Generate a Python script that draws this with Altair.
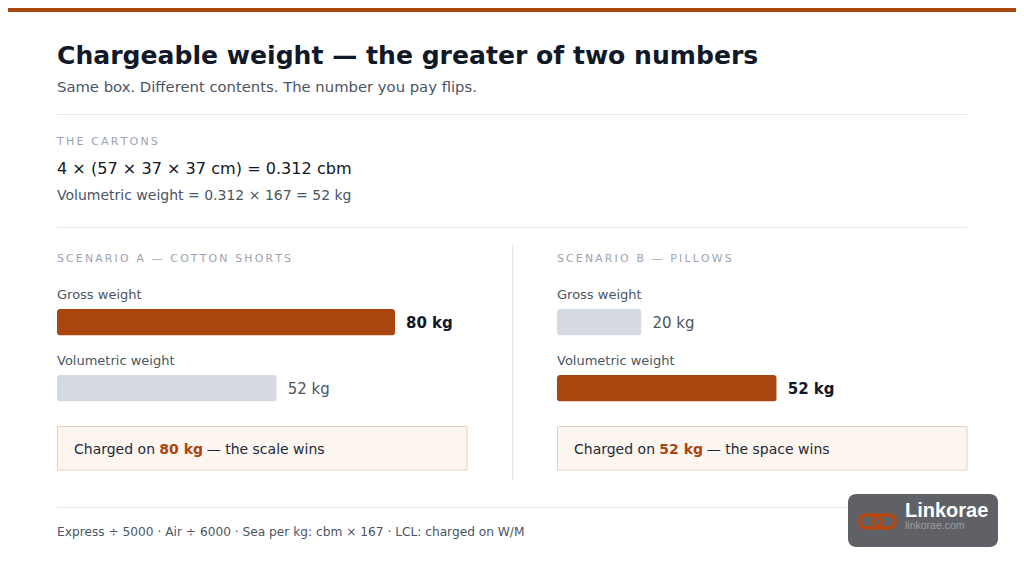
import altair as alt
import pandas as pd

# ---------------- data ----------------
title = "Chargeable weight — the greater of two numbers"
subtitle = "Same box. Different contents. The number you pay flips."
cartons_label = "THE CARTONS"
carton_count = 4
carton_dims_cm = [57, 37, 37]
total_cbm = 0.312
sea_factor = 167
volumetric_result_kg = 52

scenarios = ["A", "B"]
scenario_labels = ["SCENARIO A — COTTON SHORTS", "SCENARIO B — PILLOWS"]
metrics = ["Gross weight", "Volumetric weight"]
gross_kg = [80, 20]
volumetric_kg = [52, 52]
verdicts = ["— the scale wins", "— the space wins"]
footer = "Express ÷ 5000 · Air ÷ 6000 · Sea per kg: cbm × 167 · LCL: charged on W/M"
brand = "Linkorae"
brand_url = "linkorae.com"

# ---------------- styles ----------------
FONT = "DejaVu Sans"
ORANGE = "#a8460e"
BAR_GRAY = "#d5dae0"
DARK = "#111827"
TEXT_GRAY = "#4b5563"
LIGHT_GRAY = "#9ca3af"
LINE = "#e5e7eb"
W, H = 1008, 557
PANEL_X = [49, 549]
BAR_SPAN = 338


def spaced(s):
    return "\u2009".join(list(s))


rows = []
for i, s in enumerate(scenarios):
    vals = [gross_kg[i], volumetric_kg[i]]
    charged = max(vals)
    for m, v in zip(metrics, vals):
        rows.append({"scenario": s, "metric": m, "kg": v, "label": f"{v} kg",
                     "role": "charged" if v == charged else "other"})
df = pd.DataFrame(rows)
max_kg = max(gross_kg + volumetric_kg)

one = pd.DataFrame({"_": [0]})


def text(txt, x, y, size, color, weight="normal", font=FONT, align="left"):
    return alt.Chart(one).mark_text(
        text=txt, align=align, baseline="alphabetic", font=font,
        fontSize=size, fontWeight=weight, color=color,
    ).encode(x=alt.value(x), y=alt.value(y))


def hrule(x1, x2, y, color=LINE, width=1):
    return alt.Chart(one).mark_rule(color=color, strokeWidth=width).encode(
        x=alt.value(x1), x2=alt.value(x2), y=alt.value(y))


def box(x1, x2, y1, y2, fill, stroke=None, radius=0, sw=1):
    kw = dict(fill=fill, cornerRadius=radius)
    if stroke:
        kw.update(stroke=stroke, strokeWidth=sw)
    return alt.Chart(one).mark_rect(**kw).encode(
        x=alt.value(x1), x2=alt.value(x2), y=alt.value(y1), y2=alt.value(y2))


static = [
    box(0, W, 0, 4, ORANGE),
    text(title, 49, 56, 25.1, DARK, "bold"),
    text(subtitle, 49, 84, 14.8, TEXT_GRAY),
    hrule(49, 959, 106.5),
    text(spaced(cartons_label), 49, 137, 11, LIGHT_GRAY),
    text(f"{carton_count} × ({carton_dims_cm[0]} × {carton_dims_cm[1]} × {carton_dims_cm[2]} cm) = {total_cbm} cbm",
         49, 166, 16.1, DARK),
    text(f"Volumetric weight = {total_cbm} × {sea_factor} = {volumetric_result_kg} kg", 49, 192, 14, TEXT_GRAY),
    hrule(49, 959, 219.5),
    alt.Chart(one).mark_rule(color=LINE).encode(
        x=alt.value(504.5), y=alt.value(237), y2=alt.value(472)),
    hrule(49, 959, 499.5),
    text(footer, 49, 528, 12.2, TEXT_GRAY),
]


def panel(i):
    s = scenarios[i]
    x0 = PANEL_X[i]
    xs = alt.Scale(domain=[0, max_kg], range=[x0, x0 + BAR_SPAN], nice=False, zero=True)
    ys = alt.Scale(type="band", domain=metrics, range=[301, 393.5], paddingInner=0.6, paddingOuter=0)
    base = alt.Chart(df).transform_filter(alt.datum.scenario == s)
    X = alt.X("kg:Q", scale=xs, axis=None)
    Y = alt.Y("metric:N", scale=ys, axis=None)
    bars = base.mark_bar(cornerRadius=3).encode(
        x=X, y=Y,
        color=alt.Color("role:N", scale=alt.Scale(domain=["charged", "other"], range=[ORANGE, BAR_GRAY]),
                        legend=None),
    )
    lab_c = base.transform_filter(alt.datum.role == "charged").mark_text(
        align="left", baseline="alphabetic", dx=11, dy=5.5, font=FONT, fontSize=15,
        fontWeight="bold", color=DARK).encode(x=X, y=Y, text="label:N")
    lab_o = base.transform_filter(alt.datum.role == "other").mark_text(
        align="left", baseline="alphabetic", dx=11, dy=5.5, font=FONT, fontSize=15,
        color=TEXT_GRAY).encode(x=X, y=Y, text="label:N")
    mlab = base.mark_text(align="left", baseline="alphabetic", dy=-23.5, font=FONT, fontSize=13,
                          color=TEXT_GRAY).encode(x=alt.value(x0), y=Y, text="metric:N")
    charged = max(gross_kg[i], volumetric_kg[i])
    extras = [
        text(spaced(scenario_labels[i]), x0, 254, 10.9, LIGHT_GRAY),
        box(x0 + 0.5, x0 + 410, 418.5, 462, "#fdf5f0", "#ebcfbd"),
        text("Charged on", x0 + 17, 446, 14, "#1f2937"),
        text(f"{charged} kg", x0 + 102.3, 446, 14, ORANGE, "bold"),
        text(verdicts[i], x0 + 149.7, 446, 14, "#1f2937"),
    ]
    return alt.layer(bars, lab_c, lab_o, mlab, *extras)


logo = [
    box(840, 990, 486, 539, "#5f6166", radius=8),
    alt.Chart(one).mark_rect(fill=None, stroke="#b8480f", strokeWidth=3.5, cornerRadius=6).encode(
        x=alt.value(852), x2=alt.value(873), y=alt.value(507), y2=alt.value(520)),
    alt.Chart(one).mark_rect(fill=None, stroke="#b8480f", strokeWidth=3.5, cornerRadius=6).encode(
        x=alt.value(866), x2=alt.value(887), y=alt.value(507), y2=alt.value(520)),
    text(brand, 897, 509, 20, "white", "bold", font="Liberation Sans"),
    text(brand_url, 897, 521, 10.5, "#a39d9d", font="Liberation Sans"),
]

chart = alt.layer(*static, panel(0), panel(1), *logo).resolve_scale(
    x="independent"
).properties(
    width=W, height=H, padding=0, autosize=alt.AutoSizeParams(type="none"),
    background="white",
).configure_view(stroke=None)

chart.save("out.html", embed_options={"renderer": "svg", "actions": False})
